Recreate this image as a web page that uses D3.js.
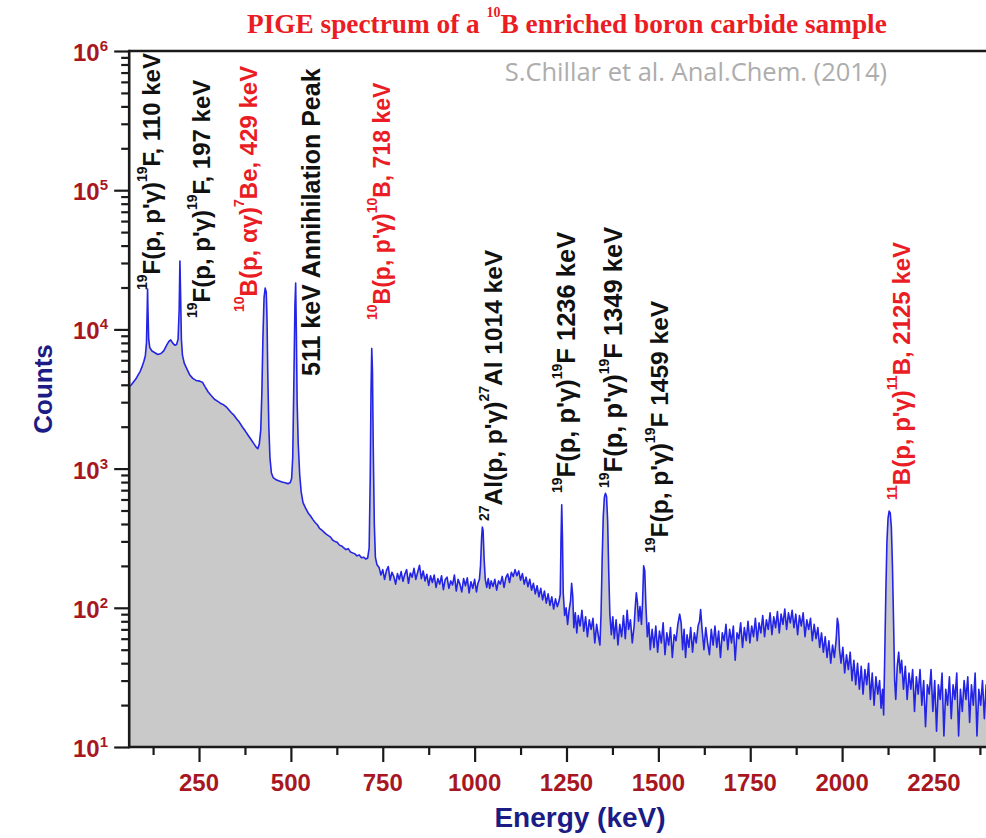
<!DOCTYPE html>
<html><head><meta charset="utf-8">
<script src="https://cdn.jsdelivr.net/npm/d3@7"></script>
<style>html,body{margin:0;padding:0;background:#fff}svg{display:block}</style>
</head><body>
<svg id="chart" width="986" height="838"></svg>
<script>
// ---------------- DATA ----------------
// spectrum: [energy (keV), counts]
const spectrum = [
[60,3900],[66,4000],[72,4200],[78,4400],[84,4700],[90,5000],[95,5400],[100,5900],[104,6500],[107,8000],[109,14000],[110,19500],[111,14000],[113,8500],[116,7400],[122,7000],[130,6800],[138,6600],[146,6700],[154,7000],[162,7700],[168,8200],[173,8400],[178,8000],[184,7700],[189,7800],[193,8500],[196,14000],[198,31000],[200,17000],[202,8500],[205,6500],[210,5700],[217,5200],[225,4700],[233,4450],[242,4300],[252,4250],[260,4150],[267,3850],[275,3550],[283,3350],[292,3150],[300,3050],[308,2950],[316,2880],[324,2780],[331,2650],[338,2520],[345,2420],[352,2280],[360,2150],[368,1990],[376,1860],[384,1730],[392,1610],[400,1500],[406,1420],[410,1390],[414,1500],[418,1900],[421,3500],[424,9000],[427,17000],[430,19800],[433,18500],[435,12000],[437,5000],[440,2000],[443,1200],[447,930],[452,860],[460,830],[468,815],[476,800],[484,790],[492,780],[498,790],[502,850],[505,1200],[508,4000],[511,15000],[513,21500],[515,9000],[517,3000],[520,1500],[524,900],[528,680],[533,570],[540,520],[547,480],
[554,455],[560,430],[566,410],[572,395],[578,372],[584,362],[590,350],[596,338],[602,330],[608,322],[614,306],[620,300],[626,296],[632,282],[638,278],[644,270],[650,262],[656,266],[662,252],[668,248],[674,244],[680,236],[686,240],[692,229],[698,231],[704,224],[709,228],[713,270],[716,900],[718,3500],[720,7300],[722,5000],[724,1500],[727,400],[730,230],[734,205],
[740,195],[745,172],[750,188],[755,160],[760,185],[765,198],[770,158],[775,180],[780,168],[785,148],[790,176],[795,160],[800,182],[805,155],[810,174],[815,188],[820,150],[825,178],[830,166],[835,192],[840,160],[845,180],[850,202],[855,162],[860,184],[865,156],[870,174],[875,145],[880,170],[885,152],[890,172],[895,140],[900,162],[905,148],[910,170],[915,135],[920,160],[925,166],[930,138],[935,156],[940,146],[945,172],[950,132],[955,160],[960,148],[965,130],[970,162],[975,144],[980,164],[985,128],[990,154],[995,138],[1000,160],[1005,130],[1009,150],[1013,160],[1016,200],[1019,320],[1021,380],[1023,360],[1026,220],[1029,160],[1033,140],[1037,162],[1041,138],[1045,156],[1050,142],[1055,160],[1060,134],[1065,156],[1070,148],[1075,168],[1080,140],[1085,165],[1090,175],[1095,152],[1100,180],[1105,168],[1110,188],[1115,170],[1120,184],[1125,158],[1130,176],[1135,148],[1140,166],[1145,142],[1150,160],[1155,134],[1160,150],[1165,126],[1170,144],[1175,120],[1180,138],[1185,114],[1190,132],[1195,108],[1200,126],[1205,104],[1210,120],[1215,98],[1220,116],[1225,102],[1229,110],[1233,125],[1235,300],[1237,550],[1239,320],[1241,130],[1245,88],[1249,100],[1253,76],[1257,96],[1261,112],[1264,150],[1267,122],[1270,72],[1274,92],[1278,66],[1282,88],[1287,74],[1292,96],[1297,68],[1302,86],[1307,62],[1312,82],[1317,70],[1322,84],[1327,56],[1332,76],[1337,62],[1341,54],[1344,90],[1347,220],[1350,450],[1353,620],[1356,665],[1359,630],[1362,420],[1365,180],[1368,90],[1372,64],[1376,86],[1380,60],[1385,82],[1390,54],[1395,76],[1400,62],[1405,88],[1410,60],[1415,96],[1419,70],[1424,82],[1429,56],[1434,74],[1437,100],[1440,128],[1443,110],[1446,80],[1450,102],[1454,76],[1457,110],[1460,200],[1463,185],[1466,105],[1470,62],[1474,78],[1478,50],[1483,70],[1488,52],[1493,74],[1498,48],[1503,68],[1508,56],[1513,78],[1518,46],[1523,66],[1528,54],[1533,72],[1538,44],[1543,64],[1548,58],[1553,76],[1558,90],[1562,78],[1566,50],[1570,70],[1574,44],[1578,64],[1583,52],[1588,72],[1593,48],[1598,66],[1603,56],[1608,74],[1612,80],[1615,97],[1619,70],[1624,50],[1629,72],[1634,56],[1639,46],[1644,70],[1649,54],[1654,74],[1659,52],[1664,68],[1669,44],[1674,66],[1679,58],[1684,76],[1689,50],[1694,70],[1699,56],[1704,74],[1709,42],[1714,66],[1719,60],[1724,78],[1729,52],[1734,72],[1739,58],[1744,80],[1749,56],[1754,74],[1759,62],[1764,84],[1769,58],[1774,78],[1779,66],[1784,88],[1789,62],[1794,82],[1799,70],[1804,92],[1809,64],[1814,86],[1819,72],[1824,94],[1829,66],[1834,90],[1839,76],[1844,98],[1849,70],[1854,92],[1859,78],[1864,96],[1869,72],[1874,90],[1879,64],[1884,88],[1889,74],[1894,92],[1899,62],[1904,82],[1909,70],[1914,84],[1919,58],[1924,76],[1929,60],[1934,72],[1939,52],[1944,66],[1949,48],[1954,62],[1959,44],[1964,58],[1969,40],[1974,54],[1979,44],[1984,60],[1987,84],[1990,76],[1993,50],[1997,40],[2002,52],[2007,34],[2012,46],[2017,36],[2022,48],[2027,30],[2032,42],[2037,28],[2042,40],[2047,26],[2052,38],[2057,24],[2062,36],[2067,28],[2072,40],[2077,22],[2082,34],[2087,20],[2092,32],[2097,24],[2102,30],[2106,19],[2110,26],[2113,17],[2116,45],[2119,130],[2122,300],[2125,440],[2128,495],[2131,480],[2134,380],[2137,200],[2140,80],[2143,30],[2146,22],[2150,38],[2154,48],[2158,34],[2162,42],[2167,26],[2172,38],[2177,22],[2182,34],[2187,26],[2192,36],[2197,18],[2202,32],[2207,24],[2212,36],[2217,20],[2222,30],[2227,14],[2232,28],[2237,24],[2242,36],[2247,18],[2252,30],[2257,13],[2262,28],[2267,22],[2272,34],[2277,12],[2282,26],[2287,20],[2292,32],[2297,16],[2302,28],[2307,22],[2312,34],[2317,12],[2322,26],[2327,18],[2332,30],[2337,22],[2342,32],[2347,15],[2352,28],[2357,20],[2362,34],[2367,12],[2372,26],[2377,20],[2382,30],[2387,16],[2392,28],[2396,20],[2400,24]
];
const xTicks = [250, 500, 750, 1000, 1250, 1500, 1750, 2000, 2250];
const xMinorTicks = [125, 375, 625, 875, 1125, 1375, 1625, 1875, 2125, 2375];
const yTickExponents = [1, 2, 3, 4, 5, 6];
const yMinorMultipliers = [2, 3, 4, 5, 6, 7, 8, 9];
const titleParts = [["PIGE spectrum of a ", 0], ["10", 1], ["B enriched boron carbide sample", 0]];
const creditText = "S.Chillar et al. Anal.Chem. (2014)";
const xAxisTitle = "Energy (keV)";
const yAxisTitle = "Counts";
// peak annotations: energy (keV), colour class, text parts [text, isSuperscript]
const peakLabels = [
  {energy: 110, kind: "F", parts: [["19",1],["F(p, p'γ)",0],["19",1],["F, 110 keV",0]]},
  {energy: 197, kind: "F", parts: [["19",1],["F(p, p'γ)",0],["19",1],["F, 197 keV",0]]},
  {energy: 429, kind: "B", parts: [["10",1],["B(p, αγ)",0],["7",1],["Be, 429 keV",0]]},
  {energy: 511, kind: "F", parts: [["511 keV Annihilation Peak",0]]},
  {energy: 718, kind: "B", parts: [["10",1],["B(p, p'γ)",0],["10",1],["B, 718 keV",0]]},
  {energy: 1014, kind: "F", parts: [["27",1],["Al(p, p'γ)",0],["27",1],["Al 1014 keV",0]]},
  {energy: 1236, kind: "F", parts: [["19",1],["F(p, p'γ)",0],["19",1],["F 1236 keV",0]]},
  {energy: 1349, kind: "F", parts: [["19",1],["F(p, p'γ)",0],["19",1],["F 1349 keV",0]]},
  {energy: 1459, kind: "F", parts: [["19",1],["F(p, p'γ)",0],["19",1],["F 1459 keV",0]]},
  {energy: 2125, kind: "B", parts: [["11",1],["B(p, p'γ)",0],["11",1],["B, 2125 keV",0]]}
];

// ---------------- LAYOUT / STYLE ----------------
const svg = d3.select("#chart");
const plotLeft = 129.2, plotRight = 989.1, plotTop = 51, plotBottom = 747;
const x = d3.scaleLinear().domain([60, 2400]).range([plotLeft, plotRight]);
const y = d3.scaleLog().domain([10, 1e6]).range([plotBottom, plotTop]);
const tickRed = "#a8171f", navy = "#1c1c86", brightRed = "#ea1c24", axisCol = "#1a1a1a";
const sans = "'Liberation Sans', Arial, sans-serif";
// label layout: [baseline offset from peak x, bottom (start) y, font size]
const labelLayout = [[12, 290, 24], [30, 318, 24], [-7.5, 312, 24], [25, 376, 25], [19, 320, 23],
                     [22.5, 521, 24.5], [13.8, 493, 25.5], [19.3, 488, 25.5], [24.8, 553, 24.5], [22, 500, 24]];

// filled spectrum
svg.append("path").datum(spectrum)
  .attr("d", d3.area().x(d => x(d[0])).y0(y(10)).y1(d => y(d[1])))
  .attr("fill", "#c9c9c9");
svg.append("path").datum(spectrum)
  .attr("d", d3.line().x(d => x(d[0])).y(d => y(d[1])))
  .attr("fill", "none").attr("stroke", "#2424e6").attr("stroke-width", 1.6)
  .attr("stroke-linejoin", "round");

// y axis ticks
const majorY = yTickExponents.map(e => Math.pow(10, e));
const minorY = [];
yTickExponents.slice(0, -1).forEach(e => yMinorMultipliers.forEach(m => minorY.push(m * Math.pow(10, e))));
const yMajorAxis = svg.append("g").attr("transform", `translate(${plotLeft},0)`)
  .call(d3.axisLeft(y).tickValues(majorY).tickSize(15).tickFormat(""));
const yMinorAxis = svg.append("g").attr("transform", `translate(${plotLeft},0)`)
  .call(d3.axisLeft(y).tickValues(minorY).tickSize(8).tickFormat(""));
const xMajorAxis = svg.append("g").attr("transform", `translate(0,${plotBottom})`)
  .call(d3.axisBottom(x).tickValues(xTicks).tickSize(15).tickFormat(""));
const xMinorAxis = svg.append("g").attr("transform", `translate(0,${plotBottom})`)
  .call(d3.axisBottom(x).tickValues(xMinorTicks).tickSize(8).tickFormat(""));
[yMajorAxis, yMinorAxis, xMajorAxis, xMinorAxis].forEach(g => {
  g.select(".domain").remove();
  g.selectAll(".tick line").attr("stroke", axisCol).attr("stroke-width", 2.2);
});

// frame lines
svg.append("line").attr("x1", plotLeft).attr("x2", plotLeft).attr("y1", plotTop - 1.2).attr("y2", plotBottom + 1.2)
  .attr("stroke", axisCol).attr("stroke-width", 2.6);
svg.append("line").attr("x1", plotLeft).attr("x2", 986).attr("y1", plotBottom).attr("y2", plotBottom)
  .attr("stroke", axisCol).attr("stroke-width", 2.6);
svg.append("line").attr("x1", plotLeft).attr("x2", 986).attr("y1", plotTop).attr("y2", plotTop)
  .attr("stroke", axisCol).attr("stroke-width", 2.6);

// y tick labels 10^n
yTickExponents.forEach(e => {
  const t = svg.append("text").attr("x", 108).attr("y", y(Math.pow(10, e)) + 10)
    .attr("text-anchor", "end").attr("font-family", sans).attr("font-weight", "bold")
    .attr("fill", tickRed);
  t.append("tspan").attr("font-size", 24).text("10");
  t.append("tspan").attr("font-size", 15).attr("dy", -10).text(e);
});
// x tick labels
xTicks.forEach(v => {
  svg.append("text").attr("x", x(v)).attr("y", 791).attr("text-anchor", "middle")
    .attr("font-family", sans).attr("font-weight", "bold").attr("font-size", 24)
    .attr("fill", tickRed).text(v);
});

// axis titles
svg.append("text").attr("transform", "translate(52,389) rotate(-90)").attr("text-anchor", "middle")
  .attr("font-family", sans).attr("font-weight", "bold").attr("font-size", 26).attr("fill", navy)
  .text(yAxisTitle);
svg.append("text").attr("x", 580).attr("y", 827).attr("text-anchor", "middle")
  .attr("font-family", sans).attr("font-weight", "bold").attr("font-size", 28).attr("fill", navy)
  .text(xAxisTitle);

// title
const title = svg.append("text").attr("x", 247).attr("y", 33)
  .attr("font-family", "'Liberation Serif', 'Times New Roman', serif").attr("font-weight", "bold")
  .attr("fill", brightRed);
let sup = false;
titleParts.forEach(([s, isSup]) => {
  const ts = title.append("tspan").text(s).attr("font-size", isSup ? 14 : 27.3);
  if (isSup && !sup) ts.attr("dy", -16);
  if (!isSup && sup) ts.attr("dy", 16);
  sup = !!isSup;
});
// credit
svg.append("text").attr("x", 887).attr("y", 81).attr("text-anchor", "end")
  .attr("font-family", "'Open Sans', sans-serif").attr("font-size", 25.5).attr("fill", "#adadad")
  .text(creditText);

// peak annotations
peakLabels.forEach((p, i) => {
  const [dx, by, fs] = labelLayout[i];
  const t = svg.append("text")
    .attr("transform", `translate(${x(p.energy) + dx},${by}) rotate(-90)`)
    .attr("font-family", sans).attr("font-weight", "bold")
    .attr("fill", p.kind === "B" ? brightRed : "#111");
  let up = false;
  p.parts.forEach(([s, isSup]) => {
    const ts = t.append("tspan").text(s).attr("font-size", isSup ? 14 : fs);
    if (isSup && !up) ts.attr("dy", -13);
    if (!isSup && up) ts.attr("dy", 13);
    up = !!isSup;
  });
});
</script>
</body></html>
